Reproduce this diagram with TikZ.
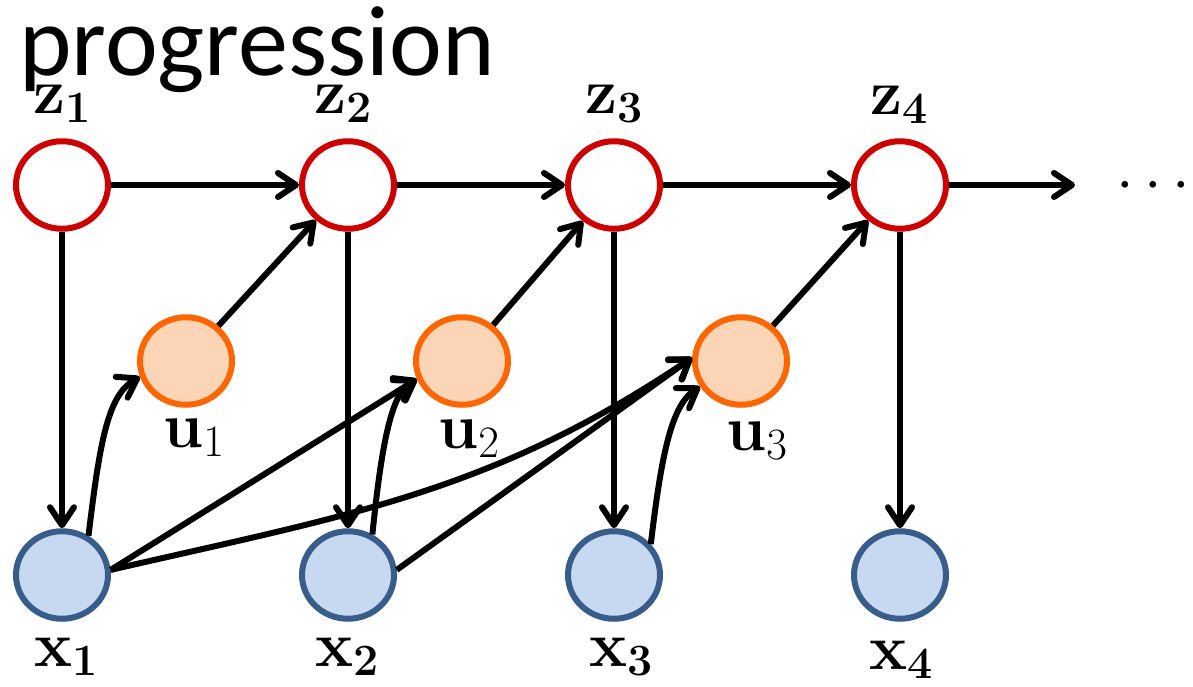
\RequirePackage{fix-cm}
\documentclass[tikz,border=0pt]{standalone}
\usepackage[no-math]{fontspec}
\newfontfamily\titlefont{Carlito}
\usetikzlibrary{arrows.meta,shapes.geometric}
\definecolor{zred}{RGB}{204,0,0}
\definecolor{uorange}{RGB}{255,102,0}
\definecolor{ufill}{RGB}{251,213,181}
\definecolor{xblue}{RGB}{56,93,138}
\definecolor{xfill}{RGB}{198,217,241}
\begin{document}
\begin{tikzpicture}[x=1pt,y=1pt,
  var/.style={ellipse, minimum width=92pt, minimum height=87.5pt, line width=6pt, inner sep=0pt},
  znode/.style={var, draw=zred, fill=white},
  unode/.style={var, draw=uorange, fill=ufill},
  xnode/.style={var, draw=xblue, fill=xfill},
  lab/.style={anchor=base, inner sep=0pt, font=\fontsize{64}{70}\selectfont},
  arr/.style={line width=6pt, -{Straight Barb[length=18pt,width=24pt,round]}}
]
\useasboundingbox (0,0) rectangle (1193,-686);

\node[anchor=base west, inner sep=0pt, font=\titlefont\fontsize{100}{110}\selectfont] (title) at (19,-75) {progression};

% nodes
\node[znode] (z1) at (62,-185) {};
\node[znode] (z2) at (348,-185) {};
\node[znode] (z3) at (614,-185) {};
\node[znode] (z4) at (900,-185) {};
\node[unode] (u1) at (186,-361) {};
\node[unode] (u2) at (462,-361) {};
\node[unode] (u3) at (741,-361) {};
\node[xnode] (x1) at (62,-575) {};
\node[xnode] (x2) at (348,-575) {};
\node[xnode] (x3) at (614,-575) {};
\node[xnode] (x4) at (900,-575) {};

% labels
\node[lab] (lz1) at (62,-113) {$\mathbf{z_1}$};
\node[lab] (lz2) at (343,-113) {$\mathbf{z_2}$};
\node[lab] (lz3) at (614,-113) {$\mathbf{z_3}$};
\node[lab] (lz4) at (899,-114) {$\mathbf{z_4}$};
\node[lab] (lu1) at (194,-447) {$\mathbf{u}_1$};
\node[lab] (lu2) at (469,-448) {$\mathbf{u}_2$};
\node[lab] (lu3) at (757,-450) {$\mathbf{u}_3$};
\node[lab] (lx1) at (66,-666) {$\mathbf{x_1}$};
\node[lab] (lx2) at (347,-666) {$\mathbf{x_2}$};
\node[lab] (lx3) at (621,-666) {$\mathbf{x_3}$};
\node[lab] (lx4) at (901,-669) {$\mathbf{x_4}$};

\coordinate (zend) at (1075,-185);
\node[anchor=base, inner sep=0pt, font=\fontsize{63}{70}\selectfont] (dots) at (1153,-200.75) {$\cdots$};

% chain
\draw[arr] (z1) -- (z2);
\draw[arr] (z2) -- (z3);
\draw[arr] (z3) -- (z4);
\draw[arr] (z4) -- (zend);

% emissions
\draw[arr] (z1) -- (x1);
\draw[arr] (z2) -- (x2);
\draw[arr] (z3) -- (x3);
\draw[arr] (z4) -- (x4);

% u to z
\draw[arr] (u1) -- (z2);
\draw[arr] (u2) -- (z3);
\draw[arr] (u3) -- (z4);

% x to u
\draw[arr] (x1.56) .. controls (100,-440) and (108,-395) .. (u1.199);
\draw[arr] (x2.59) .. controls (382,-440) and (392,-392) .. (u2.202);
\draw[arr] (x3.40) .. controls (662,-450) and (672,-405) .. (u3.212);
\draw[arr] (x1.6) -- (u2.202);
\draw[arr] (x1.6) to[out=13,in=214] (u3.176);
\draw[arr] (x2.6) -- (u3.176);
\end{tikzpicture}
\end{document}
